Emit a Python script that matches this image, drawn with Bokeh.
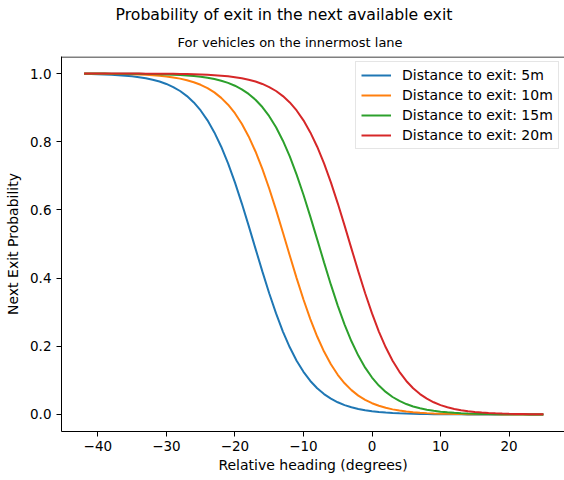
from bokeh.plotting import figure
from bokeh.models import Title, Legend, LegendItem, FixedTicker, Span, Range1d, PrintfTickFormatter
from bokeh.embed import file_html
from bokeh.resources import INLINE

# ---- data ----
heading_deg = [-42, -41, -40, -39, -38, -37, -36, -35, -34, -33,
               -32, -31, -30, -29, -28, -27, -26, -25, -24, -23,
               -22, -21, -20, -19, -18, -17, -16, -15, -14, -13,
               -12, -11, -10, -9, -8, -7, -6, -5, -4, -3,
               -2, -1, 0, 1, 2, 3, 4, 5, 6, 7,
               8, 9, 10, 11, 12, 13, 14, 15, 16, 17,
               18, 19, 20, 21, 22, 23, 24, 25]

prob_5m = [0.9988, 0.9984, 0.9979, 0.9972, 0.9964, 0.9953, 0.9938, 0.9919, 0.9894, 0.9862,
           0.9820, 0.9766, 0.9695, 0.9604, 0.9488, 0.9339, 0.9152, 0.8917, 0.8627, 0.8274,
           0.7854, 0.7363, 0.6807, 0.6193, 0.5538, 0.4865, 0.4196, 0.3556, 0.2963, 0.2432,
           0.1970, 0.1577, 0.1250, 0.0983, 0.0768, 0.0597, 0.0462, 0.0357, 0.0274, 0.0211,
           0.0162, 0.0124, 0.0095, 0.0073, 0.0055, 0.0042, 0.0032, 0.0025, 0.0019, 0.0014,
           0.0011, 0.0008, 0.0006, 0.0005, 0.0004, 0.0003, 0.0002, 0.0002, 0.0001, 0.0001,
           0.0001, 0.0001, 0.0000, 0.0000, 0.0000, 0.0000, 0.0000, 0.0000]

prob_10m = [0.9997, 0.9995, 0.9994, 0.9992, 0.9990, 0.9987, 0.9983, 0.9977, 0.9970, 0.9961,
            0.9949, 0.9933, 0.9912, 0.9886, 0.9851, 0.9805, 0.9746, 0.9670, 0.9572, 0.9447,
            0.9287, 0.9087, 0.8836, 0.8528, 0.8156, 0.7714, 0.7203, 0.6628, 0.6000, 0.5337,
            0.4663, 0.4000, 0.3372, 0.2797, 0.2286, 0.1844, 0.1472, 0.1164, 0.0913, 0.0713,
            0.0553, 0.0428, 0.0330, 0.0254, 0.0195, 0.0149, 0.0114, 0.0088, 0.0067, 0.0051,
            0.0039, 0.0030, 0.0023, 0.0017, 0.0013, 0.0010, 0.0008, 0.0006, 0.0005, 0.0003,
            0.0003, 0.0002, 0.0002, 0.0001, 0.0001, 0.0001, 0.0001, 0.0000]

prob_15m = [0.9999, 0.9999, 0.9998, 0.9998, 0.9997, 0.9996, 0.9995, 0.9994, 0.9992, 0.9989,
            0.9986, 0.9981, 0.9975, 0.9968, 0.9958, 0.9945, 0.9927, 0.9905, 0.9876, 0.9838,
            0.9789, 0.9726, 0.9643, 0.9538, 0.9403, 0.9232, 0.9017, 0.8750, 0.8423, 0.8030,
            0.7568, 0.7037, 0.6444, 0.5804, 0.5135, 0.4462, 0.3807, 0.3193, 0.2637, 0.2146,
            0.1726, 0.1373, 0.1083, 0.0848, 0.0661, 0.0512, 0.0396, 0.0305, 0.0234, 0.0180,
            0.0138, 0.0106, 0.0081, 0.0062, 0.0047, 0.0036, 0.0028, 0.0021, 0.0016, 0.0012,
            0.0009, 0.0007, 0.0005, 0.0004, 0.0003, 0.0002, 0.0002, 0.0001]

prob_20m = [1.0000, 1.0000, 1.0000, 0.9999, 0.9999, 0.9999, 0.9999, 0.9998, 0.9998, 0.9997,
            0.9996, 0.9995, 0.9993, 0.9991, 0.9988, 0.9984, 0.9979, 0.9972, 0.9964, 0.9953,
            0.9938, 0.9919, 0.9894, 0.9862, 0.9820, 0.9766, 0.9695, 0.9604, 0.9488, 0.9339,
            0.9152, 0.8917, 0.8627, 0.8274, 0.7854, 0.7363, 0.6807, 0.6193, 0.5538, 0.4865,
            0.4196, 0.3556, 0.2963, 0.2432, 0.1970, 0.1577, 0.1250, 0.0983, 0.0768, 0.0597,
            0.0462, 0.0357, 0.0274, 0.0211, 0.0162, 0.0124, 0.0095, 0.0073, 0.0055, 0.0042,
            0.0032, 0.0025, 0.0019, 0.0014, 0.0011, 0.0008, 0.0006, 0.0005]

series_labels = ["Distance to exit: 5m", "Distance to exit: 10m",
                 "Distance to exit: 15m", "Distance to exit: 20m"]
series_colors = ["#1f77b4", "#ff7f0e", "#2ca02c", "#d62728"]

x_ticks = [-40, -30, -20, -10, 0, 10, 20]
x_tick_labels = ["\u221240", "\u221230", "\u221220", "\u221210", "0", "10", "20"]
y_ticks = [0.0, 0.2, 0.4, 0.6, 0.8, 1.0]

title_text = "Probability of exit in the next available exit"
subtitle_text = "For vehicles on the innermost lane"
x_label = "Relative heading (degrees)"
y_label = "Next Exit Probability"

FONT = "DejaVu Sans"

p = figure(width=564, height=480, output_backend="svg", toolbar_location=None,
           x_range=Range1d(-45.30, 28.08), y_range=Range1d(-0.05, 1.05),
           title=None,
           min_border_left=61, min_border_right=0, min_border_top=55, min_border_bottom=49)
p.background_fill_color = "white"
p.border_fill_color = "white"
p.outline_line_color = None
p.xgrid.visible = False
p.ygrid.visible = False

p.xaxis.ticker = FixedTicker(ticks=x_ticks)
p.xaxis.major_label_overrides = {t: s for t, s in zip(x_ticks, x_tick_labels)}
p.yaxis.ticker = FixedTicker(ticks=y_ticks)
p.yaxis.formatter = PrintfTickFormatter(format="%.1f")
p.xaxis.axis_label = x_label
p.yaxis.axis_label = y_label

for ax in (p.xaxis[0], p.yaxis[0]):
    ax.axis_line_color = "black"
    ax.axis_line_width = 1
    ax.major_tick_line_color = "black"
    ax.major_tick_out = 5
    ax.major_tick_in = 0
    ax.minor_tick_line_color = None
    ax.major_label_text_font = FONT
    ax.major_label_text_font_size = "13.5px"
    ax.major_label_text_color = "black"
    ax.axis_label_text_font = FONT
    ax.axis_label_text_font_size = "14px"
    ax.axis_label_text_font_style = "normal"
    ax.axis_label_text_color = "black"

p.xaxis.major_label_standoff = 4
p.xaxis.axis_label_standoff = 3
p.yaxis.major_label_standoff = 5
p.yaxis.axis_label_standoff = 6

p.add_layout(Span(location=1.0485, dimension="width", line_color="black", line_width=1.1))

series = [prob_5m, prob_10m, prob_15m, prob_20m]
items = []
for ys, lab, col in zip(series, series_labels, series_colors):
    r = p.line(heading_deg, ys, line_color=col, line_width=2)
    items.append(LegendItem(label=lab, renderers=[r]))

legend = Legend(items=items, location=(294, 282))
legend.label_text_font = FONT
legend.label_text_font_size = "14px"
legend.label_text_color = "black"
legend.glyph_width = 30
legend.glyph_height = 16
legend.label_height = 16
legend.label_standoff = 11
legend.padding = 5
legend.spacing = 4
legend.margin = 0
legend.border_line_color = "#cccccc"
legend.border_line_width = 1
legend.background_fill_alpha = 0.8
p.add_layout(legend)

sub = Title(text=subtitle_text, align="left", offset=116, standoff=13,
            text_font=FONT, text_font_size="13px", text_font_style="normal",
            text_color="black")
main = Title(text=title_text, align="left", offset=54, standoff=5,
             text_font=FONT, text_font_size="15.7px", text_font_style="normal",
             text_color="black")
p.add_layout(sub, "above")
p.add_layout(main, "above")

open("out.html", "w").write(file_html(p, INLINE))
